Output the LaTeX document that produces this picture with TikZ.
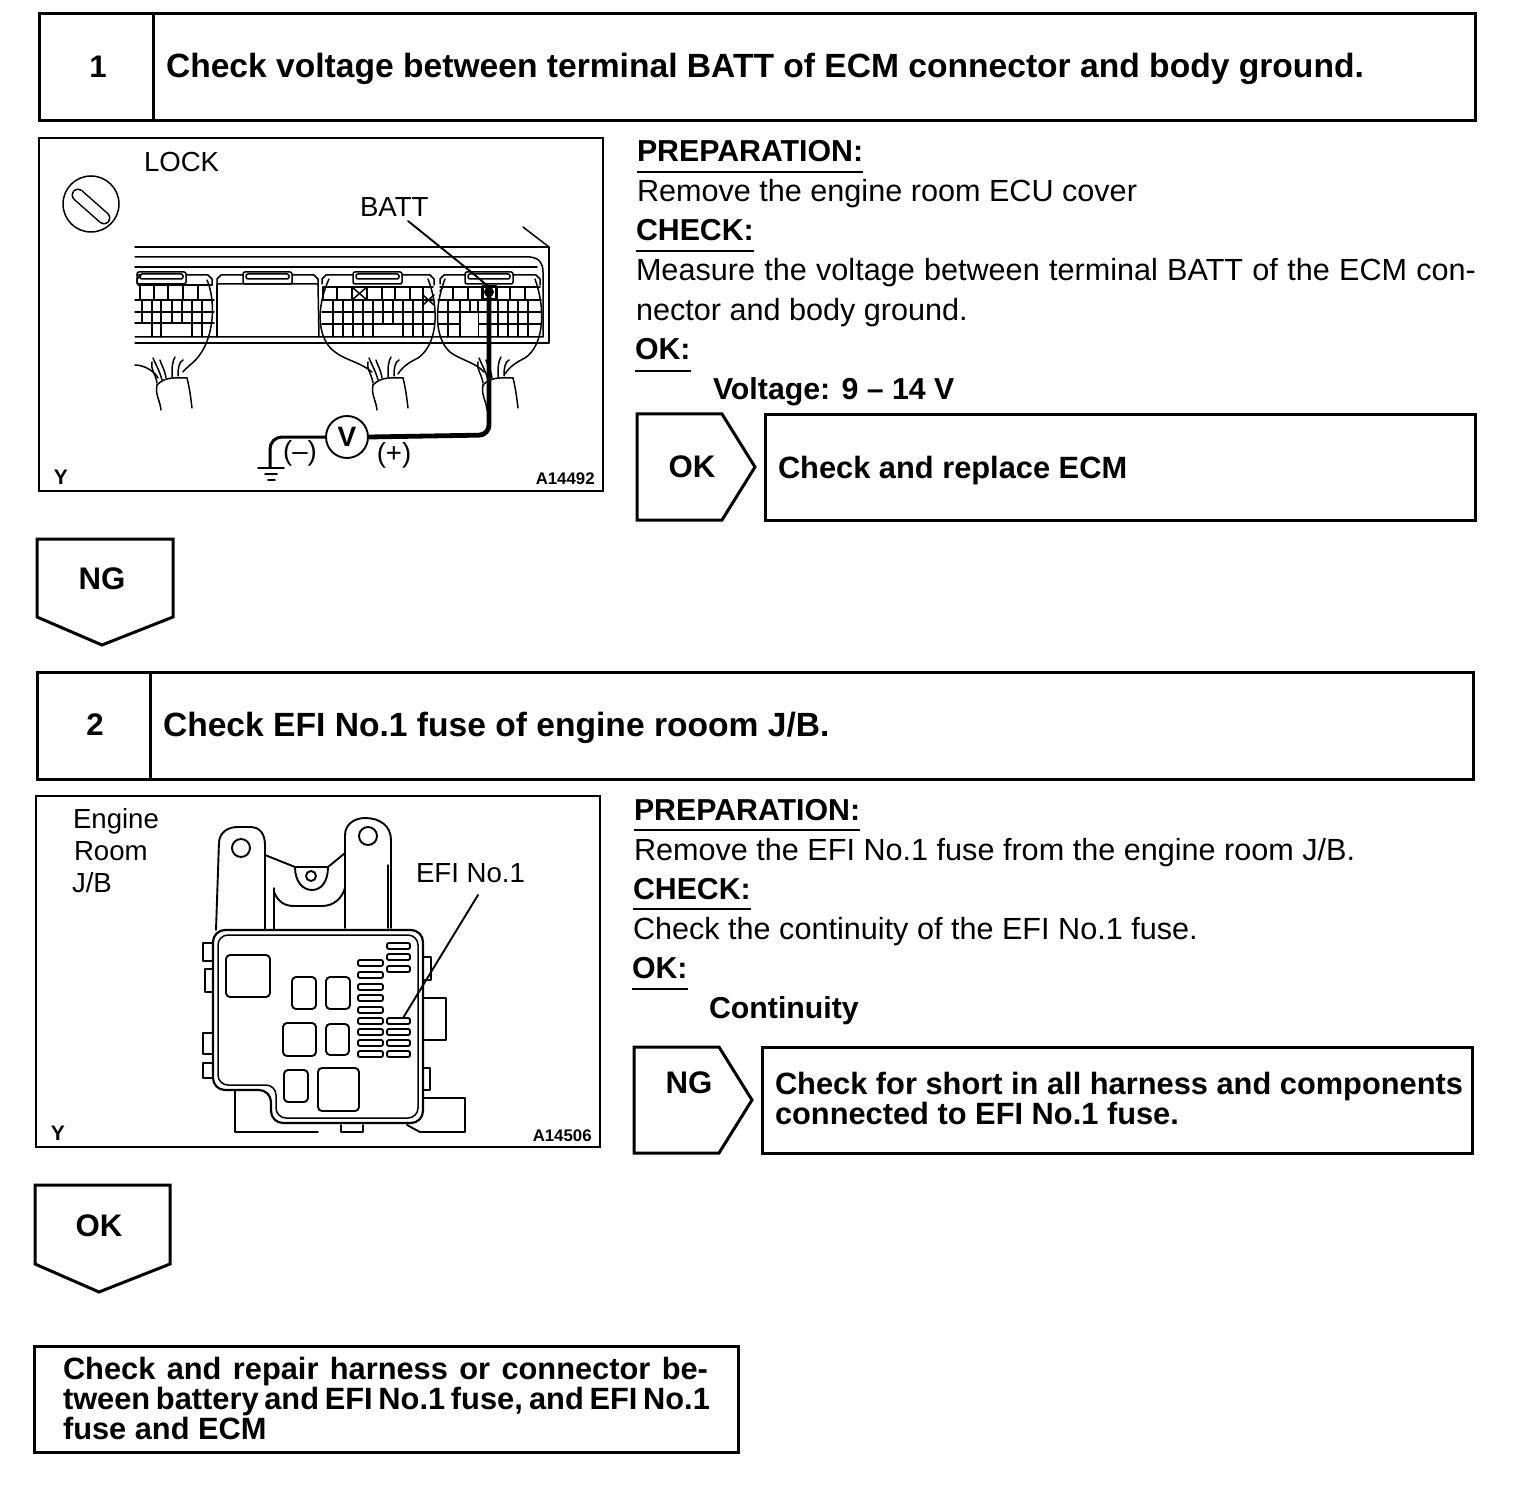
\documentclass[tikz,border=0pt]{standalone}
\usepackage{fontspec}
\setmainfont{Liberation Sans}
\tikzset{
  px/.style={x=0.5pt,y=-0.5pt},
  frame/.style={draw=black,line width=1.5pt,fill=white},
  fig/.style={draw=black,line width=1.35pt},
  thin1/.style={draw=black,line width=0.75pt,line join=round,line cap=round},
  thin2/.style={draw=black,line width=0.95pt,line join=round,line cap=round},
  under/.style={draw=black,line width=0.7pt},
  txt/.style={anchor=base west,inner sep=0pt,outer sep=0pt},
  ttl/.style={txt,font=\fontsize{16.8pt}{18pt}\selectfont\bfseries},
  hd/.style={txt,font=\fontsize{15.15pt}{18pt}\selectfont\bfseries},
  res/.style={txt,font=\fontsize{15.4pt}{18pt}\selectfont\bfseries},
  body/.style={txt,font=\fontsize{15.3pt}{18pt}\selectfont},
  num/.style={inner sep=0pt,font=\fontsize{15.6pt}{18pt}\selectfont\bfseries},
  lab/.style={txt,font=\fontsize{13.8pt}{16pt}\selectfont},
  tiny1/.style={font=\fontsize{8.4pt}{10pt}\selectfont\bfseries,inner sep=0pt},
}
% connector shell: L R tabL tabR
\newcommand{\conshell}[4]{%
  \draw[thin1] (#1,284) -- (#1,279) -- (#1+4,275) -- (#3,275);
  \draw[thin1,rounded corners=1pt] (#3,284) -- (#3,272) -- (#4,272) -- (#4,284) -- cycle;
  \draw[thin1,rounded corners=1pt] (#3+3,274) rectangle (#4-3,279);
  \draw[thin1] (#4,275) -- (#2-4,275) -- (#2,279) -- (#2,285);
}
\newcommand{\harness}[1]{%
  \begin{scope}[xshift=#1*0.5pt]
  \draw[thin1] (157,385) .. controls (165,376) and (178,378) .. (187,378);
  \draw[thin1] (157,385) .. controls (155,395) and (160,400) .. (161,410);
  \draw[thin1] (187,378) .. controls (190,390) and (191,400) .. (192,408);
  \draw[thin1] (157,383) .. controls (156,375) and (150,368) .. (152,362);
  \draw[thin1] (162,380) .. controls (160,372) and (156,365) .. (153,358);
  \draw[thin1] (166,378) .. controls (165,370) and (160,362) .. (160,360);
  \draw[thin1] (172,377) .. controls (172,368) and (172,362) .. (175,357);
  \draw[thin1] (178,376) .. controls (178,368) and (179,362) .. (183,360);
  \end{scope}
}
\begin{document}
\begin{tikzpicture}[px]
\useasboundingbox (0,0) rectangle (1536,1492);
\fill[white] (0,0) rectangle (1536,1492);

%% ---------- step 1 header
\draw[frame] (39,14) rectangle (1475,121);
\draw[frame] (153,14) -- (153,121);
\node[num] (n1) at (98,67) {1};
\node[ttl] (t1) at (166,78) {Check voltage between terminal BATT of ECM connector and body ground.};

%% ---------- figure 1
\draw[fig] (39,138) rectangle (603,491);
\node[lab] (lock) at (144,172) {LOCK};
\draw[thin1] (91,204) circle (28);
\draw[black,line width=6.5pt,line cap=round] (78,195) -- (104,218);
\draw[white,line width=5pt,line cap=round] (78,195) -- (104,218);
\node[lab] (batt) at (360,217) {BATT};
\node[anchor=center,inner sep=0pt,font=\fontsize{10.5pt}{12pt}\selectfont\bfseries] (y1) at (61,477) {Y};
\node[tiny1,anchor=base east] (a1) at (595,484) {A14492};

% ECU housing
\draw[thin1] (135,247) -- (549,247) -- (549,343) -- (135,343);
\draw[thin1] (135,257) -- (530,257) .. controls (540,258) and (543,264) .. (543,272) -- (543,337) -- (135,337);
\draw[thin1] (135,267) -- (537,267);
\coordinate (ecutop) at (549,247);
\coordinate (ecutick) at (523,227);
\draw[thin1] (ecutick) -- (ecutop);

\conshell{137}{212}{137}{186}
\conshell{217}{318}{243}{292}
\conshell{322}{434}{353}{402}
\conshell{440}{540}{465}{513}

% connector 1 grid
\draw[thin1] (138,285) -- (212,285);
\draw[thin1] (135,300) -- (214,300);
\draw[thin1] (135,312) -- (214,312);
\draw[thin1] (135,323) -- (214,323);
\foreach \x in {140,154,168,183,198} \draw[thin1] (\x,285) -- (\x,300);
\foreach \x in {142,152,161,172,182,192,202} \draw[thin1] (\x,300) -- (\x,323);
\foreach \x in {152,161,192,202} \draw[thin1] (\x,323) -- (\x,337);
% blank block
\draw[thin1] (217,284) -- (318,284) -- (319,337);
\draw[thin1] (217,284) -- (217,337);
% connector 3 grid
\draw[thin1] (323,287) -- (433,287);
\draw[thin1] (322,300) -- (434,300);
\draw[thin1] (322,312) -- (434,312);
\draw[thin1] (322,324) -- (434,324);
\foreach \x in {323,337,352,367,382,395,410,423} \draw[thin1] (\x,287) -- (\x,300);
\foreach \x in {333,343,353,363,373,383,393,403,413,423} \draw[thin1] (\x,300) -- (\x,324);
\foreach \x in {333,343,353,363,373,403,413,423} \draw[thin1] (\x,324) -- (\x,337);
\draw[thin1] (352,287) -- (367,300);
\draw[thin1] (367,287) -- (352,300);
\draw[thin1] (423,295) -- (434,305);
\draw[thin1] (434,295) -- (423,305);
% connector 4 grid
\draw[thin1] (440,287) -- (540,287);
\draw[thin1] (438,300) -- (541,300);
\draw[thin1] (438,312) -- (541,312);
\draw[thin1] (438,324) -- (541,324);
\foreach \x in {453,468,482,497,510,525} \draw[thin1] (\x,287) -- (\x,300);
\foreach \x in {448,460,470,478,488,498,508,518,528} \draw[thin1] (\x,300) -- (\x,312);
\foreach \x in {448,460,478,488,498,508,518,528} \draw[thin1] (\x,312) -- (\x,337);
\fill[white] (460.5,313) rectangle (477.5,336);
\draw[thin1] (440,291) -- (443,287);
% wire loops
\draw[thin1] (207,280) .. controls (216,300) and (216,345) .. (190,365) .. controls (187,368) and (184,370) .. (183,372);
\draw[thin1] (135,365) .. controls (145,365) and (155,372) .. (158,378);
\harness{0}
\draw[thin1] (329,279) .. controls (315,310) and (318,340) .. (335,352) .. controls (345,360) and (360,362) .. (372,372);
\draw[thin1] (428,279) .. controls (440,310) and (437,345) .. (418,358) .. controls (410,362) and (403,366) .. (398,374);
\harness{216}
\draw[thin1] (445,279) .. controls (433,310) and (436,340) .. (450,352) .. controls (460,360) and (475,362) .. (484,372);
\draw[thin1] (535,279) .. controls (546,310) and (544,345) .. (525,358) .. controls (517,362) and (510,366) .. (505,374);
\harness{326}
% meter
\node[draw=black,line width=0.95pt,circle,minimum size=21pt,inner sep=0pt,font=\fontsize{14pt}{14pt}\selectfont\bfseries] (vm) at (347,437) {V};
\coordinate (gnd) at (270,467);
\coordinate (pin) at (489,292);
\draw[black,line width=2.4pt,rounded corners=5pt] (vm.east) -- (489,435) -- (pin);
\draw[black,line width=1.5pt,rounded corners=6pt] (vm.west) -- (270,437) -- (gnd);
\draw[black,line width=0.9pt] (483,286) rectangle (496,299);
\fill[black] (pin) circle (5);
\draw[thin2] (258,468) -- (284,468);
\draw[thin2] (265,474) -- (277,474);
\draw[thin2] (268,480) -- (275,480);
\node[lab,anchor=center] (minus) at (300,453) {(–)};
\node[lab,anchor=center] (plus) at (394,455) {(+)};
\coordinate (battend) at (489,287);
\draw[thin2] (408,221) -- (470,271) -- (battend);

%% ---------- step 1 text
\node[hd] (p1) at (637,162) {PREPARATION:};
\draw[under] (637,172) -- (863,172);
\node[body] (p1b) at (637,202) {Remove the engine room ECU cover};
\node[hd] (c1) at (636,241) {CHECK:};
\draw[under] (636,251) -- (754,251);
\node[body] (c1a) at (636,281) {\makebox[420pt][s]{Measure the voltage between terminal BATT of the ECM con-}};
\node[body] (c1b) at (636,321) {nector and body ground.};
\node[hd] (o1) at (635,360) {OK:};
\draw[under] (635,371) -- (691,371);
\node[hd] (v1) at (713,400) {Voltage: 9 -- 14 V};

\draw[frame,line join=miter] (637,414) -- (722,414) -- (755,467) -- (722,520) -- (637,520) -- cycle;
\node[num] (ok1) at (692,467) {OK};
\draw[frame] (765,415) rectangle (1475,520);
\node[res] (r1) at (778,478) {Check and replace ECM};

\draw[frame,line join=miter] (37,539) -- (173,539) -- (173,617) -- (102,645) -- (37,617) -- cycle;
\node[num] (ng1) at (102,579) {NG};

%% ---------- step 2 header
\draw[frame] (37,672) rectangle (1473,779);
\draw[frame] (150,672) -- (150,779);
\node[num] (n2) at (95,725) {2};
\node[ttl] (t2) at (163,736) {Check EFI No.1 fuse of engine rooom J/B.};

%% ---------- figure 2
\draw[fig] (36,796) rectangle (600,1147);
\node[lab] (e1) at (73,828) {Engine};
\node[lab] (e2) at (74,860) {Room};
\node[lab] (e3) at (72,892) {J/B};
\node[lab] (efi) at (416,882) {EFI No.1};
\node[anchor=center,inner sep=0pt,font=\fontsize{10.5pt}{12pt}\selectfont\bfseries] (y2) at (58,1133) {Y};
\node[tiny1,anchor=base east] (a2) at (592,1141) {A14506};

% brackets
\draw[thin2] (216,930) -- (219,842) .. controls (220,832) and (228,827) .. (238,827) -- (250,827) .. controls (260,827) and (265,834) .. (265,845) -- (265,930);
\draw[thin2] (241,848) circle (9);
\draw[thin2] (345,928) -- (345,835) .. controls (345,824) and (355,818) .. (365,818) .. controls (380,818) and (391,826) .. (391,840) -- (391,928);
\draw[thin2] (368,836) circle (9);
\draw[thin1] (388,865) -- (388,928);
\draw[thin2] (265,855) -- (295,867) -- (328,867) -- (345,853);
\draw[thin2] (295,867) .. controls (295,882) and (303,890) .. (312,890) .. controls (321,890) and (328,882) .. (328,867);
\draw[thin2] (311,876) circle (5);
\draw[thin1] (274,888) -- (274,930);
\draw[thin2] (274,892) .. controls (278,902) and (285,906) .. (294,906) -- (322,906) .. controls (334,906) and (342,898) .. (345,888);
% back pieces
\draw[thin2] (235,1090) -- (235,1132) -- (318,1132);
\draw[thin2] (341,1125) -- (341,1132) -- (363,1132) -- (363,1125);
\draw[thin2] (407,1125) -- (420,1132) -- (465,1132) -- (465,1098) -- (423,1098);
\draw[thin2] (213,943) -- (203,943) -- (203,961) -- (213,961);
\draw[thin2] (213,969) -- (205,969) -- (205,992) -- (213,992);
\draw[thin2] (213,1033) -- (203,1033) -- (203,1054) -- (213,1054);
\draw[thin2] (213,1063) -- (203,1063) -- (203,1078) -- (213,1078);
\draw[thin2] (423,957) -- (431,957) -- (431,980) -- (423,980);
\draw[thin2] (423,998) -- (446,998) -- (446,1040) -- (423,1040);
\draw[thin2] (423,1068) -- (430,1068) -- (430,1090) -- (423,1090);
% main J/B body
\draw[black,line width=1.1pt,rounded corners=6pt] (213,930) -- (423,930) -- (423,1123) -- (271,1123) -- (271,1090) -- (213,1090) -- cycle;
\draw[thin1,rounded corners=5pt] (218,935) -- (418,935) -- (418,1118) -- (276,1118) -- (276,1085) -- (218,1085) -- cycle;
% relays
\foreach \a/\b/\c/\d in {226/955/270/997,292/977/316/1009,326/977/350/1009,283/1023/316/1056,326/1024/349/1055,284/1070/308/1102,318/1068/359/1111}
  \draw[thin2,rounded corners=2pt] (\a,\b) rectangle (\c,\d);
\foreach \y in {963,975,987,998,1010,1021,1032,1043,1054}
  \draw[thin2,rounded corners=1pt] (358,\y-3) rectangle (383,\y+3);
\foreach \y in {946,957,969,1021,1032,1043,1054}
  \draw[thin2,rounded corners=1pt] (387,\y-3) rectangle (410,\y+3);
\coordinate (fuse) at (403,1018);
\coordinate (efistart) at (478,895);
\draw[thin2] (efistart) -- (fuse);

%% ---------- step 2 text
\node[hd] (p2) at (634,820) {PREPARATION:};
\draw[under] (634,830) -- (860,830);
\node[body] (p2b) at (634,860) {Remove the EFI No.1 fuse from the engine room J/B.};
\node[hd] (c2) at (633,899) {CHECK:};
\draw[under] (633,909) -- (751,909);
\node[body] (c2a) at (633,939) {Check the continuity of the EFI No.1 fuse.};
\node[hd] (o2) at (632,978) {OK:};
\draw[under] (632,989) -- (688,989);
\node[hd] (v2) at (709,1018) {Continuity};

\draw[frame,line join=miter] (634,1047) -- (719,1047) -- (752,1100) -- (719,1153) -- (634,1153) -- cycle;
\node[num] (ng2) at (689,1083) {NG};
\draw[frame] (762,1047) rectangle (1472,1153);
\node[res] (r2a) at (775,1094) {Check for short in all harness and components};
\node[res] (r2b) at (775,1124) {connected to EFI No.1 fuse.};

\draw[frame,line join=miter] (35,1185) -- (170,1185) -- (170,1264) -- (99,1292) -- (35,1264) -- cycle;
\node[num] (ok2) at (99,1226) {OK};

\draw[frame] (34,1346) rectangle (738,1452);
\node[res] (f1) at (63,1379) {\makebox[322.5pt][s]{Check and repair harness or connector be-}};
\node[res] (f2) at (63,1409) {\makebox[322.5pt][s]{tween battery and EFI No.1 fuse, and EFI No.1}};
\node[res] (f3) at (63,1439) {fuse and ECM};
\end{tikzpicture}
\end{document}
